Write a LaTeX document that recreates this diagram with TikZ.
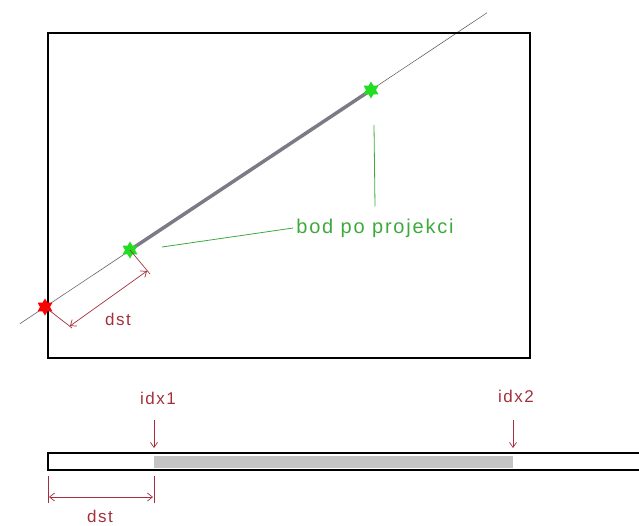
\documentclass[tikz,border=0pt]{standalone}
\usepackage{fontspec}
\setmainfont{Liberation Sans}
\newfontfamily\labelfont[LetterSpace=9]{Liberation Sans}
\usetikzlibrary{
  positioning,
  arrows.meta,
  calc,
  shapes.geometric,
  backgrounds
}
\definecolor{dimred}{HTML}{A3303C}
\definecolor{leader}{HTML}{3DAA3D}
\definecolor{projpt}{HTML}{22DD22}
\definecolor{segment}{HTML}{7C7A86}
\definecolor{barfill}{HTML}{C4C4C4}

\begin{document}
\begin{tikzpicture}[
  x=1pt, y=-1pt,
  pt/.style={star, star points=6, star point ratio=1.7, inner sep=0pt,
             minimum size=17pt, fill=#1},
  dimline/.style={dimred, line width=0.7pt},
  dimarr/.style={dimline, {Straight Barb[length=5pt,width=8pt]}-{Straight Barb[length=5pt,width=8pt]}},
  downarr/.style={dimline, -{Straight Barb[length=5pt,width=7pt]}},
  dimtxt/.style={font=\labelfont\fontsize{17}{17}\selectfont, text=dimred, inner sep=0pt},
  projtxt/.style={font=\labelfont\fontsize{20}{20}\selectfont, text=leader, inner sep=0pt}
]
  \useasboundingbox (0,0) rectangle (639,525);

  \draw[line width=1.4pt] (48,33) rectangle (530,358);

  \node[pt=red] (p0) at (45,307) {};
  \node[pt=projpt] (p1) at (130,250) {};
  \node[pt=projpt] (p2) at (371,90) {};

  \begin{scope}[on background layer]
    \draw[gray!80!black, line width=0.6pt] ($(p0.center)!-0.077!(p2.center)$) -- ($(p0.center)!1.356!(p2.center)$);
    \draw[segment, line width=3.5pt] (p1.center) -- (p2.center);
  \end{scope}

  \draw[dimline] (p0.center) -- ($(p0.center)+(27,21)$);
  \draw[dimline] (p1.center) -- ($(p1.center)+(20,24)$);
  \draw[dimarr] ($(p0.center)+(25,19)$) -- ($(p1.center)+(17,21)$);
  \node[dimtxt] (dst1) at (118,319) {dst};

  \node[projtxt] (proj) at (375,228) {bod po projekci};
  \draw[leader, line width=0.8pt] ([xshift=-3pt]proj.west) -- ($(p1.center)+(32,-3)$);
  \draw[leader, line width=0.8pt] ([yshift=12pt]proj.north) -- ($(p2.center)+(3,35)$);

  \fill[barfill] (154,456) rectangle (513,468);
  \draw[line width=1.3pt] (48,453) rectangle (660,470);

  \node[dimtxt] (idx1) at (158,398) {idx1};
  \node[dimtxt] (idx2) at (516,396) {idx2};
  \draw[downarr] (154,420) -- (154,448);
  \draw[downarr] (513,420) -- (513,448);

  \draw[dimline] (48,476) -- (48,503);
  \draw[dimline] (154,476) -- (154,503);
  \draw[dimarr] (49,497) -- (153,497);
  \node[dimtxt] (dst2) at (100,516) {dst};
\end{tikzpicture}
\end{document}
